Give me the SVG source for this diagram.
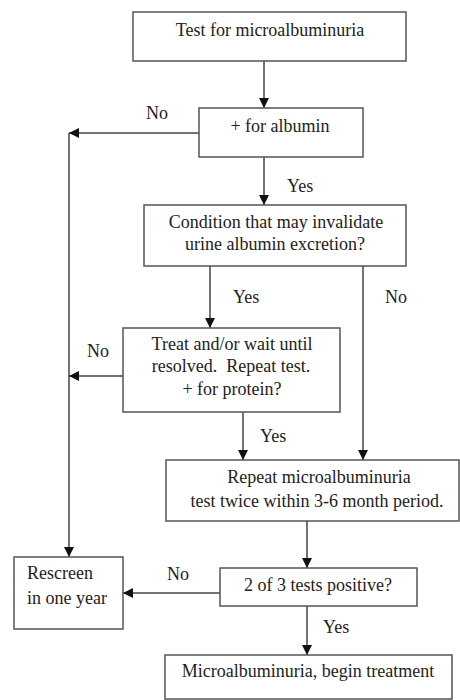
<svg xmlns="http://www.w3.org/2000/svg" width="460" height="700" viewBox="0 0 460 700">
<style>
.box{fill:#fff;stroke:#555;stroke-width:1.5}
.t{font-family:"Liberation Serif","Times New Roman",serif;font-size:18px;fill:#222}
.c{text-anchor:middle}
.ln{fill:none;stroke:#444;stroke-width:1.5}
</style>
<defs>
<marker id="ah" markerUnits="userSpaceOnUse" markerWidth="12" markerHeight="12" viewBox="0 0 12 12" refX="11" refY="6" orient="auto">
<path d="M1,1 L11,6 L1,11 Z" fill="#111"/>
</marker>
</defs>
<rect width="460" height="700" fill="#fff"/>
<g id="connectors">
<line class="ln" x1="264" y1="61" x2="264" y2="108" marker-end="url(#ah)"/>
<line class="ln" x1="199" y1="133" x2="69" y2="133" marker-end="url(#ah)"/>
<line class="ln" x1="69" y1="133" x2="69" y2="557" marker-end="url(#ah)"/>
<line class="ln" x1="264" y1="157" x2="264" y2="205" marker-end="url(#ah)"/>
<line class="ln" x1="210" y1="266" x2="210" y2="328" marker-end="url(#ah)"/>
<line class="ln" x1="363" y1="266" x2="363" y2="460" marker-end="url(#ah)"/>
<line class="ln" x1="123" y1="376" x2="69" y2="376" marker-end="url(#ah)"/>
<line class="ln" x1="243" y1="412" x2="243" y2="460" marker-end="url(#ah)"/>
<line class="ln" x1="307" y1="521" x2="307" y2="568" marker-end="url(#ah)"/>
<line class="ln" x1="220" y1="593" x2="123" y2="593" marker-end="url(#ah)"/>
<line class="ln" x1="307" y1="606" x2="307" y2="655" marker-end="url(#ah)"/>
<text class="t" x="146" y="119">No</text>
<text class="t" x="287" y="192">Yes</text>
<text class="t" x="233" y="303">Yes</text>
<text class="t" x="385" y="303">No</text>
<text class="t" x="87" y="357">No</text>
<text class="t" x="260" y="442">Yes</text>
<text class="t" x="167" y="580">No</text>
<text class="t" x="323" y="633">Yes</text>
</g>
<g id="test">
<rect class="box" x="133" y="12" width="273" height="49"/>
<text class="t c" x="270" y="36">Test for microalbuminuria</text>
</g>
<g id="albumin">
<rect class="box" x="199" y="108" width="164" height="49"/>
<text class="t c" x="280" y="132">+ for albumin</text>
</g>
<g id="condition">
<rect class="box" x="144" y="205" width="262" height="61"/>
<text class="t c" x="276" y="228">Condition that may invalidate</text>
<text class="t c" x="275" y="250">urine albumin excretion?</text>
</g>
<g id="treat">
<rect class="box" x="123" y="328" width="217" height="84"/>
<text class="t c" x="232" y="350">Treat and/or wait until</text>
<text class="t c" x="231" y="372" xml:space="preserve">resolved.  Repeat test.</text>
<text class="t c" x="232" y="395">+ for protein?</text>
</g>
<g id="repeat">
<rect class="box" x="166" y="460" width="293" height="61"/>
<text class="t c" x="319" y="483">Repeat microalbuminuria</text>
<text class="t c" x="317" y="507">test twice within 3-6 month period.</text>
</g>
<g id="positive">
<rect class="box" x="220" y="568" width="197" height="38"/>
<text class="t c" x="318" y="591">2 of 3 tests positive?</text>
</g>
<g id="rescreen">
<rect class="box" x="14" y="557" width="109" height="72"/>
<text class="t" x="27" y="579">Rescreen</text>
<text class="t" x="27" y="604">in one year</text>
</g>
<g id="treatment">
<rect class="box" x="165" y="655" width="287" height="44"/>
<text class="t c" x="308" y="677">Microalbuminuria, begin treatment</text>
</g>
</svg>
